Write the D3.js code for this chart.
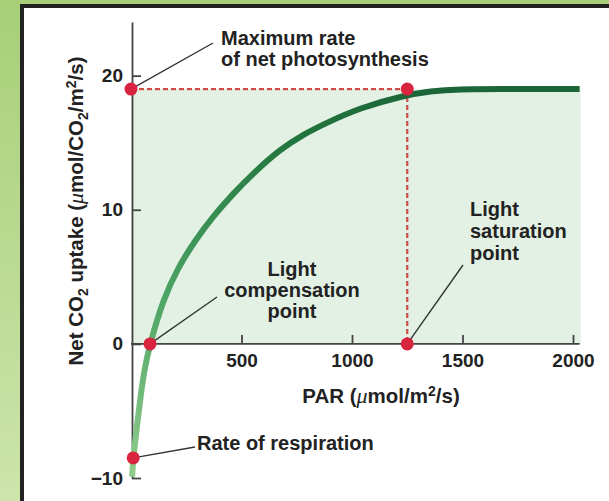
<!DOCTYPE html>
<html>
<head>
  <meta charset="utf-8">
  <title>Light response curve</title>
  <script src="https://d3js.org/d3.v7.min.js"></script>
  <style>
    body { margin: 0; background: #fff; }
    text { font-family: "Liberation Sans", Arial, sans-serif; font-weight: bold; fill: #222; }
  </style>
</head>
<body>
<div id="chart"></div>

<script type="text/javascript">
  // curve
  const parValues = [5, 10, 41, 59, 86, 145, 213, 290, 371, 462, 552, 674, 778, 887, 1036, 1231, 1353, 1489, 1650, 2030];
  const uptakeValues = [-9.9, -8.5, -4.2, -2.0, 0, 3.3, 5.7, 7.7, 9.5, 11.2, 12.7, 14.5, 15.6, 16.5, 17.6, 18.5, 18.85, 19.0, 19.0, 19.0];

  const xTicks = [500, 1000, 1500, 2000];
  const yTicks = [-10, 0, 10, 20];

  // key points
  const maxRate = 19;
  const saturationPAR = 1250;
  const compensationPAR = 86;
  const respirationRate = -8.5;
  const fillEnd = 2035;

  const W = 609, H = 501;

  const svg = d3.select('#chart')
    .append('svg')
      .attr('width', W)
      .attr('height', H);

  // frame
  const defs = svg.append('defs');
  const grad = defs.append('linearGradient')
      .attr('id', 'side').attr('x1', 0).attr('y1', 0).attr('x2', 0).attr('y2', 1);
  grad.append('stop').attr('offset', 0).attr('stop-color', '#a6cf78');
  grad.append('stop').attr('offset', 1).attr('stop-color', '#cce5ab');
  svg.append('rect').attr('x', 0).attr('y', 0).attr('width', W).attr('height', 5).attr('fill', '#a6cf78');
  svg.append('rect').attr('x', 0).attr('y', 0).attr('width', 20).attr('height', H).attr('fill', 'url(#side)');
  svg.append('rect').attr('x', 20).attr('y', 4).attr('width', W - 20).attr('height', 4).attr('fill', '#222');
  svg.append('rect').attr('x', 20).attr('y', 4).attr('width', 4).attr('height', H - 4).attr('fill', '#222');

  const x = d3.scaleLinear().domain([0, 2000]).range([131, 573]);
  const y = d3.scaleLinear().domain([-10, 24]).range([478, 22]);

  // shaded area
  svg.append('rect')
     .attr('x', x(0))
     .attr('y', y(maxRate))
     .attr('width', x(fillEnd) - x(0))
     .attr('height', y(0) - y(maxRate))
     .attr('fill', '#e3f1e4');

  // curve gradient, light at the bottom, dark at the plateau
  const cg = defs.append('linearGradient')
      .attr('id', 'curveGrad')
      .attr('gradientUnits', 'userSpaceOnUse')
      .attr('x1', x(0)).attr('y1', y(-10))
      .attr('x2', x(1250)).attr('y2', y(maxRate));
  cg.append('stop').attr('offset', 0).attr('stop-color', '#8fcd8c');
  cg.append('stop').attr('offset', 0.35).attr('stop-color', '#4da465');
  cg.append('stop').attr('offset', 0.75).attr('stop-color', '#23773f');
  cg.append('stop').attr('offset', 1).attr('stop-color', '#1b6638');

  // dashed guides
  const red = '#d04c48';
  svg.append('line')
     .attr('x1', x(0)).attr('x2', x(saturationPAR))
     .attr('y1', y(maxRate)).attr('y2', y(maxRate))
     .attr('stroke', red).attr('stroke-width', 2.2).attr('stroke-dasharray', '5,3');
  svg.append('line')
     .attr('x1', x(saturationPAR)).attr('x2', x(saturationPAR))
     .attr('y1', y(maxRate)).attr('y2', y(0))
     .attr('stroke', red).attr('stroke-width', 2.2).attr('stroke-dasharray', '5,3');

  // axes
  const yAxis = d3.axisLeft(y).tickValues(yTicks).tickSize(-9).tickSizeOuter(0).tickPadding(9);
  const gy = svg.append('g').attr('transform', `translate(${x(0) + 1},0)`).call(yAxis);
  gy.select('.domain').attr('stroke', '#444').attr('stroke-width', 1.8);
  gy.selectAll('.tick line').attr('stroke', '#444').attr('stroke-width', 1.8);
  gy.selectAll('.tick text').attr('font-size', 19).attr('fill', '#222');

  const xAxis = d3.axisBottom(x).tickValues(xTicks).tickFormat(d3.format('d')).tickSize(-9).tickPadding(10);
  const gx = svg.append('g').attr('transform', `translate(0,${y(0)})`).call(xAxis);
  gx.select('.domain').remove();
  gx.append('line')
    .attr('x1', x(0)).attr('x2', x(2030))
    .attr('stroke', '#444').attr('stroke-width', 1.8);
  gx.selectAll('.tick line').attr('stroke', '#444').attr('stroke-width', 1.8);
  gx.selectAll('.tick text').attr('font-size', 19).attr('fill', '#222');

  // the curve
  const line = d3.line()
    .x(d => x(d[0]))
    .y(d => y(d[1]))
    .curve(d3.curveBasis);
  svg.append('path')
     .datum(d3.zip(parValues, uptakeValues))
     .attr('d', line)
     .attr('fill', 'none')
     .attr('stroke', 'url(#curveGrad)')
     .attr('stroke-width', 6)
     .attr('stroke-linecap', 'butt');

  // points + leaders
  const points = [
    {px: 0, py: maxRate, lx: 213, ly: 43},
    {px: saturationPAR, py: maxRate},
    {px: compensationPAR, py: 0, lx: 217, ly: 297},
    {px: saturationPAR, py: 0, lx: 463, ly: 265},
    {px: 10, py: respirationRate, lx: 195, ly: 447}
  ];

  svg.selectAll('line.leader')
     .data(points.filter(p => p.lx))
     .enter()
     .append('line')
     .attr('class', 'leader')
     .attr('x1', p => x(p.px)).attr('y1', p => y(p.py))
     .attr('x2', p => p.lx).attr('y2', p => p.ly)
     .attr('stroke', '#333').attr('stroke-width', 1.4);

  svg.selectAll('circle')
     .data(points)
     .enter()
     .append('circle')
     .attr('cx', p => x(p.px))
     .attr('cy', p => y(p.py))
     .attr('r', 6.5)
     .attr('fill', '#d8243f');

  // labels
  function label(lines, lx, ly, anchor, step) {
    lines.forEach((t, i) => {
      svg.append('text')
         .attr('x', lx).attr('y', ly + i * step)
         .attr('font-size', 20)
         .style('text-anchor', anchor)
         .text(t);
    });
  }
  label(['Maximum rate', 'of net photosynthesis'], 221, 45, 'start', 21);
  label(['Light', 'compensation', 'point'], 292, 276, 'middle', 21);
  label(['Light', 'saturation', 'point'], 470, 216, 'start', 22);
  label(['Rate of respiration'], 197, 450, 'start', 0);

  // rich text helper for sub / superscripts and mu
  function rich(t, parts) {
    parts.forEach(p => {
      const s = t.append('tspan').text(p.t);
      if (p.k === 'sub') s.attr('font-size', 14).attr('dy', 5);
      if (p.k === 'sup') s.attr('font-size', 14).attr('dy', -7);
      if (p.k === 'mu') s.style('font-family', '"Liberation Serif", serif').style('font-style', 'italic').style('font-weight', 'normal').attr('font-size', 22);
      if (p.k === 'after-sub') s.attr('dy', -5);
      if (p.k === 'after-sup') s.attr('dy', 7);
    });
  }

  const xt = svg.append('text')
     .attr('x', 381).attr('y', 403)
     .attr('font-size', 20.5)
     .style('text-anchor', 'middle');
  rich(xt, [
    {t: 'PAR ('}, {t: '\u03bc', k: 'mu'}, {t: 'mol/m'},
    {t: '2', k: 'sup'}, {t: '/s)', k: 'after-sup'}
  ]);

  const yt = svg.append('text')
     .attr('transform', 'translate(83,211) rotate(-90)')
     .attr('font-size', 20.5)
     .style('text-anchor', 'middle');
  rich(yt, [
    {t: 'Net CO'}, {t: '2', k: 'sub'}, {t: ' uptake (', k: 'after-sub'},
    {t: '\u03bc', k: 'mu'}, {t: 'mol/CO'}, {t: '2', k: 'sub'},
    {t: '/m', k: 'after-sub'}, {t: '2', k: 'sup'}, {t: '/s)', k: 'after-sup'}
  ]);
</script>
</body>
</html>
